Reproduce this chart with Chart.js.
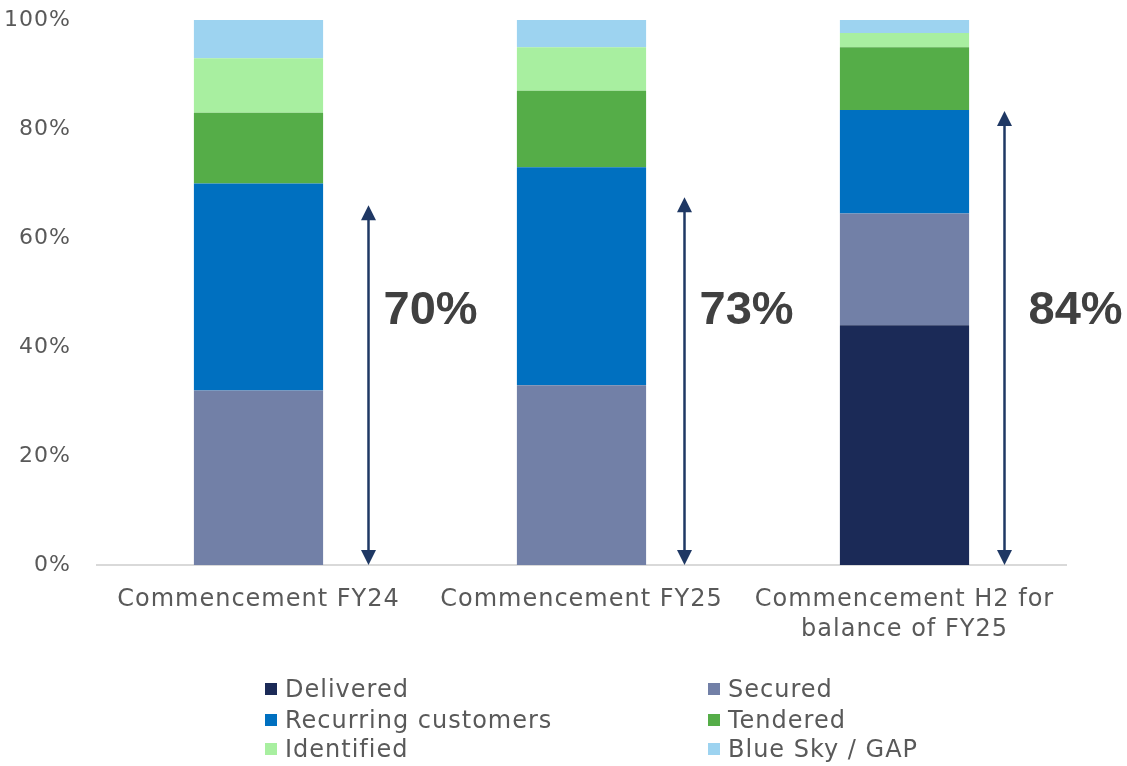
<!DOCTYPE html>
<html>
<head>
<meta charset="utf-8">
<script src="https://cdn.jsdelivr.net/npm/chart.js@4.4.1/dist/chart.umd.min.js"></script>
<style>
  html, body { margin: 0; padding: 0; background: #ffffff; }
  #wrap { position: relative; width: 1127px; height: 766px; }
  #chart { position: absolute; left: 0; top: 0; }
  #legend { position: absolute; left: 0; top: 0; width: 1127px; height: 766px; pointer-events: none;
            font-family: "DejaVu Sans", sans-serif; font-size: 24px; letter-spacing: 1px; color: #595959; }
  .item { position: absolute; display: flex; align-items: center; white-space: nowrap; height: 30px; }
  .box { width: 12px; height: 12px; margin-right: 8px; }
</style>
</head>
<body>
<div id="wrap">
  <canvas id="chart" width="1127" height="766"></canvas>
  <div id="legend"></div>
</div>
<script>
// ---- data ----
const categories = ["Commencement FY24", "Commencement FY25", ["Commencement H2 for", "balance of FY25"]];
const seriesNames = ["Delivered", "Secured", "Recurring customers", "Tendered", "Identified", "Blue Sky / GAP"];
const delivered  = [0, 0, 44];
const secured    = [32, 33, 20.5];
const recurring  = [38, 40, 19];
const tendered   = [13, 14, 11.5];
const identified = [10, 8, 2.6];
const blueSky    = [7, 5, 2.4];
const yTicks = [0, 20, 40, 60, 80, 100];
const arrowLabels = ["70%", "73%", "84%"];
const arrowTops = [66, 67.5, 83.3];

const colors = ["#1b2a57", "#7280a7", "#0070c0", "#55ad48", "#a8efa0", "#9dd3f0"];
const seriesValues = [delivered, secured, recurring, tendered, identified, blueSky];

const datasets = seriesNames.map((name, i) => ({
  label: name,
  data: seriesValues[i],
  backgroundColor: colors[i],
  borderWidth: 0,
  categoryPercentage: 1.0,
  barPercentage: 0.4
}));

const arrowPlugin = {
  id: 'arrows',
  beforeUpdate(chart) { chart.ctx.letterSpacing = '1px'; },
  afterDatasetsDraw(chart) {
    const ctx = chart.ctx;
    const xs = chart.scales.x, ys = chart.scales.y;
    const step = xs.getPixelForValue(1) - xs.getPixelForValue(0);
    const offsets = [0.339, 0.317, 0.308];
    const textGap = [15, 15, 24];
    ctx.save();
    ctx.letterSpacing = '0px';
    arrowLabels.forEach((lab, i) => {
      const x = Math.round(xs.getPixelForValue(i) + offsets[i] * step) + 0.5;
      const yTop = ys.getPixelForValue(arrowTops[i]);
      const yBot = ys.getPixelForValue(0);
      const head = 15, hw = 7.5;
      ctx.strokeStyle = '#1f3864';
      ctx.fillStyle = '#1f3864';
      ctx.lineWidth = 2.5;
      ctx.beginPath();
      ctx.moveTo(x, yTop + head - 1);
      ctx.lineTo(x, yBot - head + 1);
      ctx.stroke();
      ctx.beginPath();
      ctx.moveTo(x, yTop); ctx.lineTo(x - hw, yTop + head); ctx.lineTo(x + hw, yTop + head); ctx.closePath(); ctx.fill();
      ctx.beginPath();
      ctx.moveTo(x, yBot); ctx.lineTo(x - hw, yBot - head); ctx.lineTo(x + hw, yBot - head); ctx.closePath(); ctx.fill();
      ctx.fillStyle = '#404040';
      ctx.font = 'bold 47px "Liberation Sans", Arial, sans-serif';
      ctx.textAlign = 'left';
      ctx.textBaseline = 'middle';
      ctx.fillText(lab, x + textGap[i], ys.getPixelForValue(46.6));
    });
    ctx.restore();
  }
};

const chart = new Chart(document.getElementById('chart'), {
  type: 'bar',
  data: { labels: categories, datasets },
  options: {
    responsive: false,
    animation: false,
    events: [],
    layout: { padding: { left: 5, right: 61, top: 20, bottom: 0 } },
    plugins: { legend: { display: false }, tooltip: { enabled: false } },
    scales: {
      x: {
        stacked: true,
        grid: { display: false, drawTicks: false },
        border: { display: true, color: '#d9d9d9', width: 2 },
        ticks: { color: '#595959', font: { family: '"DejaVu Sans", sans-serif', size: 24, lineHeight: 1.25 },
                 padding: 20, maxRotation: 0, autoSkip: false },
        afterFit(scale) { scale.height = 766 - 565; scale.paddingLeft = 0; scale.paddingRight = 0; }
      },
      y: {
        stacked: true,
        min: 0, max: 100,
        afterBuildTicks(scale) { scale.ticks = yTicks.map(v => ({ value: v })); },
        grid: { display: false, drawTicks: false },
        border: { display: false },
        ticks: { color: '#595959', font: { family: '"DejaVu Sans", sans-serif', size: 22 },
                 padding: 26, callback: v => v + '%' },
        afterFit(scale) { scale.width = 92; scale.paddingTop = 0; scale.paddingBottom = 0; }
      }
    }
  },
  plugins: [arrowPlugin]
});

// ---- legend (two columns, from the chart's datasets) ----
const legend = document.getElementById('legend');
const colX = [265, 708];
const rowY = [674, 705, 734];
chart.data.datasets.forEach((ds, i) => {
  const d = document.createElement('div');
  d.className = 'item';
  d.style.left = colX[i % 2] + 'px';
  d.style.top = rowY[Math.floor(i / 2)] + 'px';
  const b = document.createElement('span');
  b.className = 'box';
  b.style.background = ds.backgroundColor;
  const t = document.createElement('span');
  t.textContent = ds.label;
  d.appendChild(b); d.appendChild(t);
  legend.appendChild(d);
});
</script>
</body>
</html>
